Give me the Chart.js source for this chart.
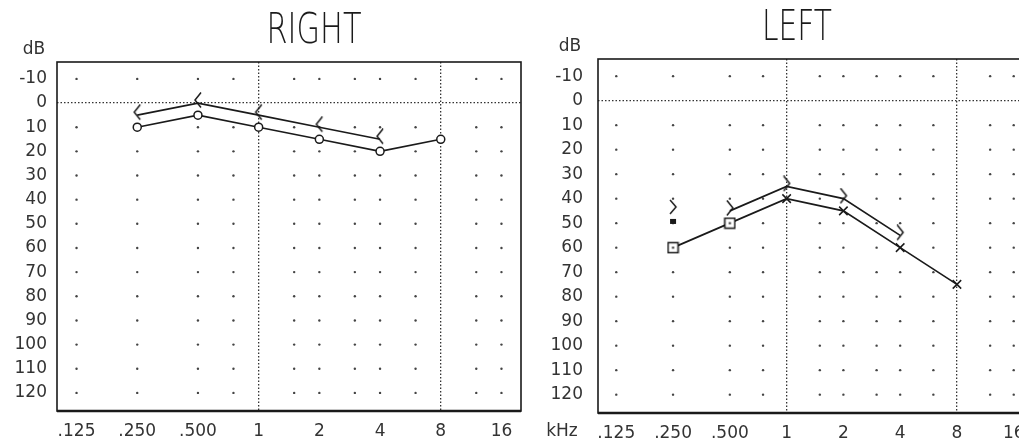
<!DOCTYPE html>
<html lang="en">
<head>
<meta charset="UTF-8">
<title>Audiogram</title>
<style>
  html, body { margin: 0; padding: 0; background: #fff; overflow: hidden; }
  .panel { position: absolute; top: 0; height: 443px; }
  #rightEar { left: 0; width: 530px; }
  #leftEar { left: 525px; width: 535px; }
</style>
</head>
<body>
<div class="panel" id="rightEar"><canvas id="rightCanvas"></canvas></div>
<div class="panel" id="leftEar"><canvas id="leftCanvas"></canvas></div>
<script src="https://cdn.jsdelivr.net/npm/chart.js"></script>
<script>
// axis ticks
const xTickVals = [0.125, 0.25, 0.5, 1, 2, 4, 8, 16];
const xTickLabels = ['.125', '.250', '.500', '1', '2', '4', '8', '16'];
const yTickVals = [-10, 0, 10, 20, 30, 40, 50, 60, 70, 80, 90, 100, 110, 120];

// dotted background grid (octaves + inter-octaves)
const dotFreqs = [0.125, 0.25, 0.5, 0.75, 1.5, 2, 3, 4, 6, 12, 16];
const dotLevels = [-10, 10, 20, 30, 40, 50, 60, 70, 80, 90, 100, 110, 120];

// right ear
const rightAirFreqs = [0.25, 0.5, 1, 2, 4, 8];
const rightAir = [10, 5, 10, 15, 20, 15];
const rightBoneFreqs = [0.25, 0.5, 1, 2, 4];
const rightBone = [5, 0, 5, 10, 15];

// left ear
const leftAirFreqs = [0.25, 0.5, 1, 2, 4, 8];
const leftAir = [60, 50, 40, 45, 60, 75];
const leftAirMasked = [true, true, false, false, false, false];
const leftBoneFreqs = [0.5, 1, 2, 4];
const leftBone = [45, 35, 40, 55];
const leftBoneNrFreqs = [0.25];
const leftBoneNr = [45];

const ink = '#1a1a1a';
const tickColor = '#333';
const tickFont = { family: '"DejaVu Sans", sans-serif', size: 17, weight: 'normal' };

const pts = (xs, ys) => xs.map((x, i) => ({ x: x, y: ys[i] }));
const gridDots = dotFreqs.flatMap(f => dotLevels.map(v => ({ x: f, y: v })));

// small printer-style symbols
function glyph(w, h, draw) {
    const c = document.createElement('canvas');
    c.width = w;
    c.height = h;
    const g = c.getContext('2d');
    g.strokeStyle = ink;
    g.fillStyle = ink;
    g.lineWidth = 1.5;
    draw(g);
    return c;
}
const boneR = glyph(12, 22, g => {
    g.beginPath(); g.moveTo(9, 0.5); g.lineTo(3, 8); g.lineTo(9, 15.5); g.stroke();
});
const boneL = glyph(12, 22, g => {
    g.beginPath(); g.moveTo(3, 0.5); g.lineTo(9, 8); g.lineTo(3, 15.5); g.stroke();
});
const boneLNr = glyph(12, 34, g => {
    g.beginPath(); g.moveTo(3, 6); g.lineTo(9, 13); g.lineTo(3, 20); g.stroke();
    g.fillRect(3, 25, 6, 5);
});
const maskedAir = glyph(13, 13, g => {
    g.fillStyle = '#fff';
    g.fillRect(1, 1, 11, 11);
    g.strokeRect(1.5, 1.5, 10, 10);
    g.fillStyle = ink;
    g.fillRect(5.5, 5.5, 2, 2);
});

const frame = {
    id: 'frame',
    beforeDatasetsDraw(chart) {
        const { ctx, chartArea: a } = chart;
        ctx.save();
        ctx.strokeStyle = ink;
        ctx.lineWidth = 1.6;
        ctx.strokeRect(a.left, a.top, a.right - a.left, a.bottom - a.top);
        ctx.lineWidth = 2.6;
        ctx.beginPath();
        ctx.moveTo(a.left, a.bottom);
        ctx.lineTo(a.right, a.bottom);
        ctx.stroke();
        ctx.restore();
    }
};

const panelText = {
    id: 'panelText',
    afterDraw(chart, args, opts) {
        const ctx = chart.ctx;
        ctx.save();
        ctx.fillStyle = ink;
        ctx.textAlign = 'center';
        ctx.textBaseline = 'middle';
        ctx.font = '200 43px "DejaVu Sans", sans-serif';
        const w = ctx.measureText(opts.title).width;
        ctx.translate(opts.titleX, opts.titleY);
        ctx.scale(opts.titleW / w, 1);
        ctx.fillText(opts.title, 0, 0);
        ctx.restore();

        ctx.save();
        ctx.fillStyle = tickColor;
        ctx.textAlign = 'center';
        ctx.textBaseline = 'middle';
        ctx.font = '17px "DejaVu Sans", sans-serif';
        ctx.fillText('dB', opts.dbX, opts.dbY);
        if (opts.unitX) ctx.fillText('kHz', opts.unitX, opts.unitY);
        ctx.restore();
    }
};

function audiogramOptions(p) {
    return {
        responsive: true,
        maintainAspectRatio: false,
        animation: false,
        layout: { padding: { top: p.top, right: p.right, left: 0, bottom: 0 } },
        plugins: {
            legend: { display: false },
            tooltip: { enabled: false },
            panelText: p.text
        },
        scales: {
            x: {
                type: 'logarithmic',
                min: 0.1,
                max: 20,
                afterBuildTicks: s => { s.ticks = xTickVals.map(v => ({ value: v })); },
                afterFit: s => { s.height = p.xHeight; },
                ticks: {
                    autoSkip: false, maxRotation: 0, minRotation: 0,
                    padding: p.xPad, color: tickColor, font: tickFont,
                    callback: (v, i) => xTickLabels[i]
                },
                grid: {
                    drawTicks: false,
                    lineWidth: 1.3,
                    color: c => (c.tick && (c.tick.value === 1 || c.tick.value === 8)) ? '#333' : 'transparent'
                },
                border: { display: false, dash: [1.5, 2] }
            },
            y: {
                type: 'linear',
                reverse: true,
                min: -17,
                max: 127.5,
                afterBuildTicks: s => { s.ticks = yTickVals.map(v => ({ value: v })); },
                afterFit: s => { s.width = p.yWidth; },
                ticks: {
                    autoSkip: false, padding: p.yPad, color: tickColor, font: tickFont,
                    callback: v => String(v)
                },
                grid: {
                    drawTicks: false,
                    lineWidth: 1.3,
                    color: c => (c.tick && c.tick.value === 0) ? '#333' : 'transparent'
                },
                border: { display: false, dash: [1.5, 2] }
            }
        }
    };
}

const dotSet = {
    label: 'grid',
    data: gridDots,
    pointRadius: 1.2,
    pointBackgroundColor: '#444',
    pointBorderWidth: 0
};

new Chart(document.getElementById('rightCanvas'), {
    type: 'scatter',
    data: {
        datasets: [
            {
                label: 'Air',
                data: pts(rightAirFreqs, rightAir),
                showLine: true,
                borderColor: ink,
                borderWidth: 1.7,
                pointStyle: 'circle',
                pointRadius: 4,
                pointBackgroundColor: '#fff',
                pointBorderColor: ink,
                pointBorderWidth: 1.5
            },
            {
                label: 'Bone',
                data: pts(rightBoneFreqs, rightBone),
                showLine: true,
                borderColor: ink,
                borderWidth: 1.7,
                pointStyle: boneR,
                pointRadius: 6
            },
            dotSet
        ]
    },
    options: audiogramOptions({
        top: 62, right: 9, xHeight: 32, yWidth: 57, xPad: 10, yPad: 10,
        text: { title: 'RIGHT', titleX: 314, titleY: 32, titleW: 95, dbX: 34, dbY: 50 }
    }),
    plugins: [frame, panelText]
});

new Chart(document.getElementById('leftCanvas'), {
    type: 'scatter',
    data: {
        datasets: [
            {
                label: 'Air',
                data: pts(leftAirFreqs, leftAir),
                showLine: true,
                borderColor: ink,
                borderWidth: 1.7,
                pointStyle: c => leftAirMasked[c.dataIndex] ? maskedAir : 'crossRot',
                pointRadius: 6,
                pointBorderColor: ink,
                pointBorderWidth: 1.5
            },
            {
                label: 'Bone',
                data: pts(leftBoneFreqs, leftBone),
                showLine: true,
                borderColor: ink,
                borderWidth: 1.7,
                pointStyle: boneL,
                pointRadius: 6
            },
            {
                label: 'Bone NR',
                data: pts(leftBoneNrFreqs, leftBoneNr),
                pointStyle: boneLNr,
                pointRadius: 6
            },
            dotSet
        ]
    },
    options: audiogramOptions({
        top: 59, right: 28, xHeight: 30, yWidth: 73, xPad: 10, yPad: 15,
        text: { title: 'LEFT', titleX: 272, titleY: 29, titleW: 70, dbX: 45, dbY: 47, unitX: 37, unitY: 432 }
    }),
    plugins: [frame, panelText]
});
</script>
</body>
</html>
